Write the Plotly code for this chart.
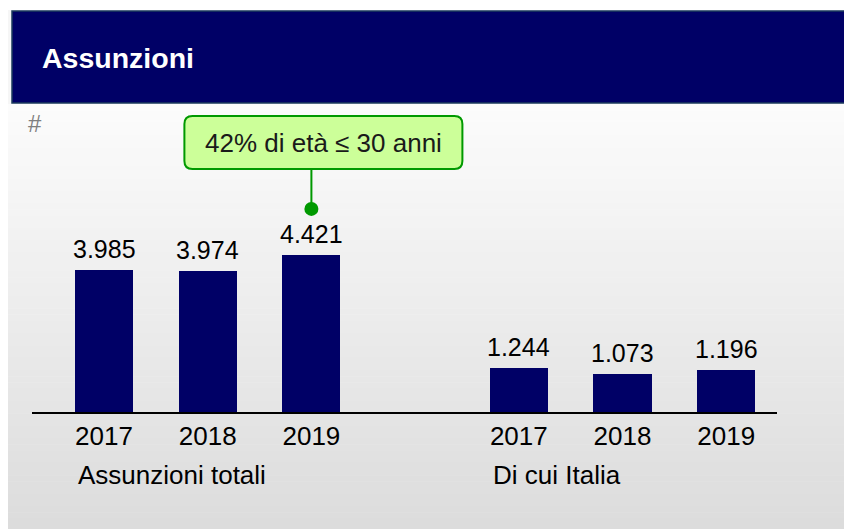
import plotly.graph_objects as go

# ---------------- data ----------------
years = ["2017", "2018", "2019"]
group_labels = ["Assunzioni totali", "Di cui Italia"]
totali = [3985, 3974, 4421]
italia = [1244, 1073, 1196]
title_text = "Assunzioni"
unit_text = "#"
callout_text = "42% di età ≤ 30 anni"

# ---------------- layout constants ----------------
W, H = 852, 529
OFF = 8                   # page body margin: screen px -> figure px
PL, PR = 32 - OFF, 777 - OFF     # plot area left/right (figure px)
PT, PB = 104 - OFF, 412 - OFF    # plot area top/bottom (figure px)
FONT = "Liberation Sans, Arial, sans-serif"
NAVY = "#000066"
GREEN = "#009900"
FS_VAL = 25
FS_TICK = 26
FS_GRP = 26

def px(x):
    """screen x (px) -> paper fraction"""
    return (x - OFF - PL) / (PR - PL)

def py(y):
    """screen y (px) -> paper fraction"""
    return (PB - (y - OFF)) / (PB - PT)

def it_fmt(v):
    return f"{v:,}".replace(",", ".")

# x positions: one empty slot between the two groups
x_tot = [i for i in range(len(years))]
x_ita = [i + len(years) + 1 for i in range(len(years))]

fig = go.Figure()
for xs, vals in [(x_tot, totali), (x_ita, italia)]:
    fig.add_trace(go.Bar(
        x=xs, y=vals, width=0.56,
        marker=dict(color=NAVY, line=dict(width=0)),
        showlegend=False, hoverinfo="skip",
    ))

shapes = []
# panel gradient background
N = 70
top, bot = 104, 537
for i in range(N):
    y0 = top + (bot - top) * i / N
    y1 = top + (bot - top) * (i + 1) / N + 0.5
    t = (i + 0.5) / N
    c = int(round(252 - (252 - 219) * t))
    shapes.append(dict(type="rect", xref="paper", yref="paper", layer="below",
                       x0=px(6), x1=px(W + 10), y0=py(y1), y1=py(y0),
                       line=dict(width=0), fillcolor=f"rgb({c},{c},{c})"))
shapes.append(dict(type="rect", xref="paper", yref="paper", layer="below",
                   x0=px(6), x1=px(W + 10), y0=py(104), y1=py(10),
                   line=dict(width=0), fillcolor="#f6f6f6"))
# header bar
shapes.append(dict(type="rect", xref="paper", yref="paper", layer="below",
                   x0=px(12), x1=px(W + 10), y0=py(103), y1=py(11),
                   line=dict(color="#1d3b5e", width=1.5), fillcolor=NAVY))

# callout (anchored on the 2019 total bar top, pixel offsets)
ax_i = x_tot[2]
ay_v = totali[2]
r = 8
bx0, bx1, by0, by1 = -127, 151, 86, 139
path = (f"M{bx0+r},{by0} L{bx1-r},{by0} Q{bx1},{by0} {bx1},{by0+r} "
        f"L{bx1},{by1-r} Q{bx1},{by1} {bx1-r},{by1} L{bx0+r},{by1} "
        f"Q{bx0},{by1} {bx0},{by1-r} L{bx0},{by0+r} Q{bx0},{by0} {bx0+r},{by0} Z")
shapes.append(dict(type="path", xref="x", yref="y", xsizemode="pixel", ysizemode="pixel",
                   xanchor=ax_i, yanchor=ay_v, path=path,
                   fillcolor="#ccff99", line=dict(color=GREEN, width=2)))
shapes.append(dict(type="line", xref="x", yref="y", xsizemode="pixel", ysizemode="pixel",
                   xanchor=ax_i, yanchor=ay_v, x0=0, x1=0, y0=46, y1=86,
                   line=dict(color=GREEN, width=2)))
shapes.append(dict(type="circle", xref="x", yref="y", xsizemode="pixel", ysizemode="pixel",
                   xanchor=ax_i, yanchor=ay_v, x0=-7, x1=7, y0=39, y1=53,
                   fillcolor=GREEN, line=dict(color=GREEN, width=0)))

annotations = [
    dict(text=f"<b>{title_text}</b>", xref="paper", yref="paper", x=px(40), y=py(58),
         xanchor="left", yanchor="middle", showarrow=False,
         font=dict(size=28.5, color="#ffffff", family=FONT)),
    dict(text=unit_text, xref="paper", yref="paper", x=px(35), y=py(123),
         xanchor="center", yanchor="middle", showarrow=False,
         font=dict(size=24, color="#7f7f7f", family=FONT)),
    dict(text=callout_text, xref="x", yref="y", x=ax_i, y=ay_v, xshift=12, yshift=112,
         xanchor="center", yanchor="middle", showarrow=False,
         font=dict(size=26, color="#1a1a1a", family=FONT)),
]
# value labels above bars
for xs, vals in [(x_tot, totali), (x_ita, italia)]:
    for xv, v in zip(xs, vals):
        annotations.append(dict(text=it_fmt(v), xref="x", yref="y", x=xv, y=v, yshift=21,
                                xanchor="center", yanchor="middle", showarrow=False,
                                font=dict(size=FS_VAL, color="#000000", family=FONT)))
# group labels
for lbl, xs in zip(group_labels, [x_tot, x_ita]):
    annotations.append(dict(text=lbl, xref="x", yref="paper", x=xs[0] - 0.27, y=py(475),
                            xanchor="left", yanchor="middle", showarrow=False,
                            font=dict(size=FS_GRP, color="#000000", family=FONT)))

x_range = [(PL + OFF - 104) / 103.7, (PR + OFF - 104) / 103.7]
y_max = (PB - PT) / 0.03553

fig.update_layout(
    width=W, height=H,
    margin=dict(l=PL, r=W - PR, t=PT, b=H - PB, pad=0),
    paper_bgcolor="#ffffff", plot_bgcolor="rgba(0,0,0,0)",
    bargap=0,
    font=dict(family=FONT, color="#000000"),
    xaxis=dict(range=x_range, showline=True, linecolor="#000000", linewidth=2,
               tickvals=x_tot + x_ita, ticktext=years + years, ticks="",
               tickfont=dict(size=FS_TICK, color="#000000", family=FONT),
               showgrid=False, zeroline=False, fixedrange=True),
    yaxis=dict(range=[0, y_max], visible=False, showgrid=False, zeroline=False, fixedrange=True),
    shapes=shapes,
    annotations=annotations,
)

fig.write_html("out.html")
